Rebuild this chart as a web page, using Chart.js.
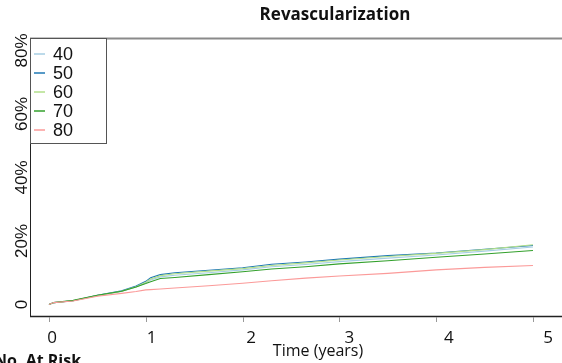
<!DOCTYPE html>
<html>
<head>
<meta charset="utf-8">
<script src="https://cdn.jsdelivr.net/npm/chart.js@4/dist/chart.umd.min.js"></script>
<style>
  html, body { margin: 0; padding: 0; background: #fff; }
  #wrap { width: 562px; height: 363px; position: relative; }
</style>
</head>
<body>
<div id="wrap"><canvas id="km-chart"></canvas></div>
<script>
// 时间轴 (年) 与各年龄组累计发生率 (%)
const times = [0, 0.05, 0.25, 0.5, 0.75, 0.9, 1.0, 1.05, 1.15, 1.3, 1.65, 2.0, 2.3, 2.65, 3.0, 3.5, 4.0, 4.5, 5.0];
const age40 = [0, 0.6, 1.2, 2.8, 4.1, 5.5, 6.8, 7.7, 8.7, 9.2, 10.0, 10.9, 11.9, 12.6, 13.5, 14.6, 15.6, 16.8, 18.1];
const age50 = [0, 0.6, 1.2, 2.9, 4.3, 5.8, 7.3, 8.4, 9.4, 10.0, 10.8, 11.6, 12.7, 13.4, 14.3, 15.4, 16.2, 17.4, 18.6];
const age60 = [0, 0.6, 1.2, 2.8, 4.2, 5.6, 7.0, 8.0, 9.1, 9.7, 10.5, 11.3, 12.3, 13.1, 14.0, 15.1, 16.1, 17.3, 18.8];
const age70 = [0, 0.6, 1.3, 2.9, 4.2, 5.5, 6.6, 7.2, 8.2, 8.5, 9.4, 10.3, 11.2, 11.9, 12.8, 13.8, 14.9, 15.9, 17.0];
const age80 = [0, 0.6, 1.1, 2.6, 3.5, 4.1, 4.6, 4.7, 4.9, 5.2, 5.9, 6.7, 7.5, 8.3, 9.0, 9.8, 10.9, 11.7, 12.3];

const groupLabels = ['40', '50', '60', '70', '80'];
const groupColors = ['#a6cee3', '#1f78b4', '#b2df8a', '#33a02c', '#fb9a99'];
const xTicks = [0, 1, 2, 3, 4, 5];
const yTicks = [0, 20, 40, 60, 80];
const yTickLabels = ['0', '20%', '40%', '60%', '80%'];

const KMChart = {
  chart: null,

  /**
   * 把时间和数值配成点
   */
  toPoints(values) {
    return times.map((t, i) => ({ x: t, y: values[i] }));
  },

  /**
   * 坐标轴、标题、图例都自己画
   */
  decorPlugin: {
    id: 'decor',
    afterDraw(chart) {
      const ctx = chart.ctx;
      const area = chart.chartArea;
      const xs = chart.scales.x;
      const ys = chart.scales.y;

      ctx.save();

      // 顶部灰线
      ctx.strokeStyle = '#8a8a8a';
      ctx.lineWidth = 2;
      ctx.beginPath();
      ctx.moveTo(area.left, area.top + 0.5);
      ctx.lineTo(area.right, area.top + 0.5);
      ctx.stroke();

      // 左轴与下轴
      ctx.strokeStyle = '#222';
      ctx.lineWidth = 1;
      ctx.beginPath();
      ctx.moveTo(area.left + 0.5, area.top);
      ctx.lineTo(area.left + 0.5, area.bottom);
      ctx.stroke();
      ctx.lineWidth = 1.5;
      ctx.beginPath();
      ctx.moveTo(area.left, area.bottom + 0.5);
      ctx.lineTo(area.right, area.bottom + 0.5);
      ctx.stroke();

      // x 轴刻度和数字
      ctx.strokeStyle = '#999';
      ctx.lineWidth = 1;
      ctx.fillStyle = '#111';
      ctx.font = '17px "Open Sans"';
      ctx.textAlign = 'center';
      ctx.textBaseline = 'middle';
      for (const t of xTicks) {
        const px = Math.round(xs.getPixelForValue(t)) + 0.5;
        ctx.beginPath();
        ctx.moveTo(px, area.bottom + 1);
        ctx.lineTo(px, area.bottom + 6);
        ctx.stroke();
        ctx.fillText(String(t), px + 2.7 + t * 2.4, area.bottom + 22);
      }

      // y 轴数字 (竖排)
      ctx.font = '17px "Liberation Sans"';
      ctx.textBaseline = 'alphabetic';
      yTicks.forEach((v, i) => {
        const py = ys.getPixelForValue(v);
        ctx.save();
        ctx.translate(27, py);
        ctx.rotate(-Math.PI / 2);
        ctx.fillText(yTickLabels[i], 0, 0);
        ctx.restore();
      });

      // 标题
      ctx.font = 'bold 17px "Open Sans"';
      ctx.textBaseline = 'middle';
      ctx.fillText('Revascularization', 335, 15);

      // x 轴标题
      ctx.font = '16px "Open Sans"';
      ctx.fillText('Time (years)', 318, 351);

      // 风险人数标题 (被裁掉一半)
      ctx.font = 'bold 16px "Open Sans"';
      ctx.textAlign = 'left';
      ctx.textBaseline = 'alphabetic';
      ctx.fillText('No. At Risk', -6, 366);

      // 图例框
      ctx.fillStyle = '#fff';
      ctx.fillRect(area.left, area.top, 76, 105);
      ctx.strokeStyle = '#555';
      ctx.lineWidth = 1;
      ctx.strokeRect(area.left + 0.5, area.top + 0.5, 76, 105);

      ctx.font = '18px "Liberation Sans"';
      ctx.textBaseline = 'middle';
      chart.data.datasets.forEach((ds, i) => {
        const ly = area.top + 16 + i * 19;
        ctx.strokeStyle = ds.borderColor;
        ctx.lineWidth = 1.5;
        ctx.beginPath();
        ctx.moveTo(area.left + 4, ly);
        ctx.lineTo(area.left + 15, ly);
        ctx.stroke();
        ctx.fillStyle = '#111';
        ctx.fillText(ds.label, area.left + 23, ly + 1);
      });

      ctx.restore();
    }
  },

  render() {
    const ctx = document.getElementById('km-chart').getContext('2d');
    const series = [age40, age50, age60, age70, age80];

    const datasets = series.map((values, i) => ({
      label: groupLabels[i],
      data: this.toPoints(values),
      borderColor: groupColors[i],
      borderWidth: 1.1,
      pointRadius: 0,
      tension: 0,
      fill: false,
      order: groupLabels.length - i
    }));

    this.chart = new Chart(ctx, {
      type: 'line',
      data: { datasets },
      options: {
        responsive: true,
        maintainAspectRatio: false,
        animation: false,
        layout: { padding: { left: 30, top: 38, right: 0, bottom: 47 } },
        plugins: {
          legend: { display: false },
          tooltip: { enabled: false }
        },
        scales: {
          x: { type: 'linear', min: -0.196, max: 5.3, display: false },
          y: { type: 'linear', min: -3.62, max: 83.94, display: false }
        }
      },
      plugins: [this.decorPlugin]
    });
  }
};

KMChart.render();
</script>
</body>
</html>
